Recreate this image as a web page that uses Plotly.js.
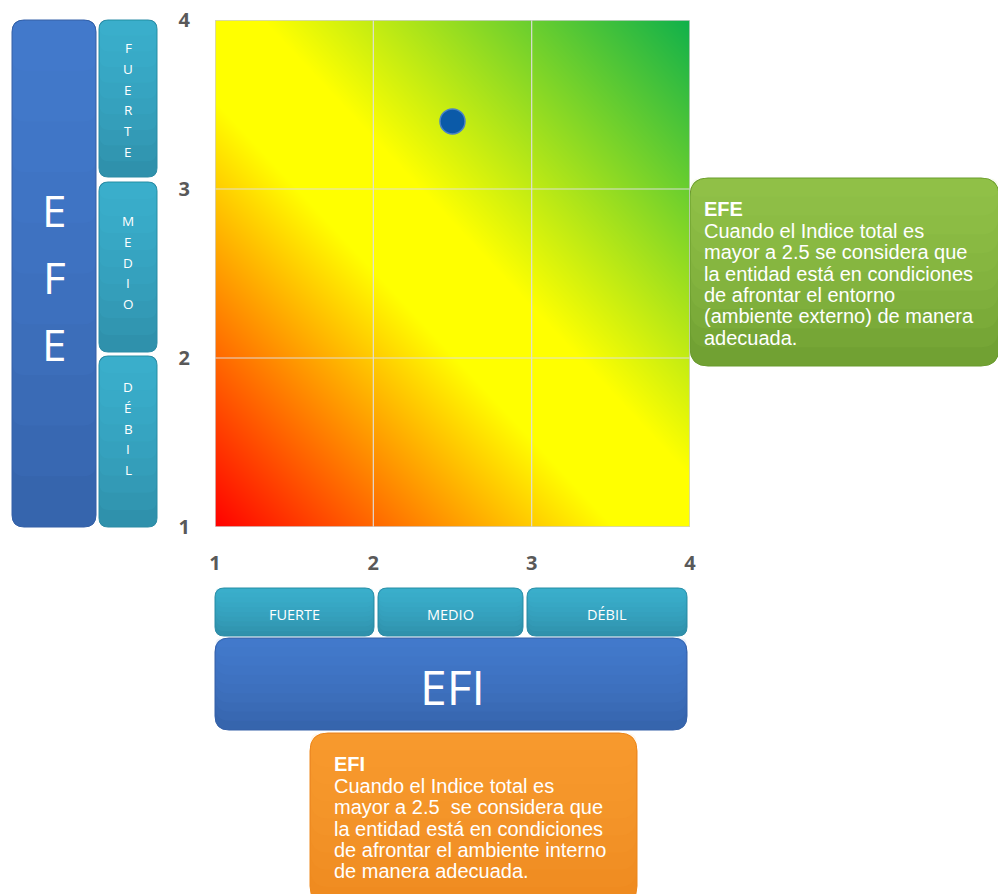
<!DOCTYPE html>
<html>
<head>
<meta charset="utf-8">
<script src="https://cdn.plot.ly/plotly-3.0.1.min.js"></script>
<style>
  body { margin: 0; background: #fff; }
  #chart { width: 998px; height: 894px; }
</style>
</head>
<body>
<div id="chart"></div>
<script>
// valores de la matriz EFI - EFE
const tickValues = [1, 2, 3, 4];
const tickLabels = ['1', '2', '3', '4'];
const efiScore = [2.5];   // eje X
const efeScore = [3.4];   // eje Y

// esquinas del degradado de fondo (z = EFI + EFE)
const bgX = [1, 4];
const bgY = [1, 4];
const bgZ = [[2, 5], [5, 8]];

const levelLabels = ['FUERTE', 'MEDIO', 'DÉBIL'];
const efeNoteLines = ['Cuando el Indice total es', 'mayor a 2.5 se considera que', 'la entidad está en condiciones',
    'de afrontar el entorno', '(ambiente externo) de manera', 'adecuada.'];
const efiNoteLines = ['Cuando el Indice total es', 'mayor a 2.5  se considera que', 'la entidad está en condiciones',
    'de afrontar el ambiente interno', 'de manera adecuada.'];

// área del gráfico en pixeles
const W = 998, H = 894;
const L = 215, R = 690, T = 20, B = 527;
const px = x => (x - L) / (R - L);
const py = y => (B - y) / (B - T);

// caja redondeada en coordenadas paper
function roundBox(x0, y0, x1, y1, r, fill, line) {
    const rx = r / (R - L), ry = r / (B - T);
    const a = px(x0), b = px(x1), c = py(y0), d = py(y1);
    const path = `M ${a + rx},${c} L ${b - rx},${c} Q ${b},${c} ${b},${c - ry} L ${b},${d + ry} Q ${b},${d} ${b - rx},${d} ` +
        `L ${a + rx},${d} Q ${a},${d} ${a},${d + ry} L ${a},${c - ry} Q ${a},${c} ${a + rx},${c} Z`;
    return { type: 'path', xref: 'paper', yref: 'paper', path: path, fillcolor: fill,
        line: { color: line || 'rgba(0,0,0,0)', width: line ? 1 : 0 }, layer: 'above' };
}

// degradado vertical aproximado: capas translúcidas del color claro, apiladas desde arriba
function gradBox(x0, y0, x1, y1, r, base, top) {
    const out = [roundBox(x0, y0, x1, y1, r, base, base)];
    const steps = 10;
    for (let k = 1; k <= steps; k++) {
        const yb = y0 + (y1 - y0) * k / steps;
        out.push(roundBox(x0 + 0.5, y0 + 0.5, x1 - 0.5, Math.min(yb, y1 - 0.5), Math.min(r, (yb - y0) / 2), top));
    }
    return out;
}

function label(text, x, y, size, opts) {
    return Object.assign({
        text: text, xref: 'paper', yref: 'paper', x: px(x), y: py(y), showarrow: false,
        xanchor: 'center', yanchor: 'middle',
        font: { family: 'Open Sans, sans-serif', size: size, color: '#ffffff' }
    }, opts || {});
}

const blue = '#3461a8', blueTop = 'rgba(76,142,222,0.10)';
const teal = '#2d8ca6', tealTop = 'rgba(66,198,230,0.10)';

let shapes = [];
let annotations = [];

// EFE grande a la izquierda
shapes = shapes.concat(gradBox(12, 20, 96, 527, 12, blue, blueTop));
['E', 'F', 'E'].forEach((ch, i) => annotations.push(label(ch, 54, 210 + i * 67, 44)));

// niveles verticales EFE
const vBoxes = [[20, 177], [182, 352], [356, 527]];
const vStart = [48, 221, 387];
levelLabels.forEach((lab, k) => {
    shapes = shapes.concat(gradBox(99, vBoxes[k][0], 157, vBoxes[k][1], 9, teal, tealTop));
    lab.split('').forEach((ch, i) => annotations.push(label(ch, 128, vStart[k] + i * 20.8, 13.5)));
});

// niveles horizontales EFI
const hBoxes = [[215, 374], [378, 523], [527, 687]];
levelLabels.forEach((lab, k) => {
    shapes = shapes.concat(gradBox(hBoxes[k][0], 588, hBoxes[k][1], 636, 9, teal, tealTop));
    annotations.push(label(lab, (hBoxes[k][0] + hBoxes[k][1]) / 2, 614, 14.5));
});

// EFI grande abajo
shapes = shapes.concat(gradBox(215, 638, 687, 730, 14, blue, blueTop));
annotations.push(label('EFI', 452, 686, 48));

// notas
shapes = shapes.concat(gradBox(690, 178, 999, 366, 18, '#6b9b2f', 'rgba(170,216,92,0.10)'));
shapes = shapes.concat(gradBox(310, 733, 637, 904, 18, '#ee881d', 'rgba(253,166,62,0.10)'));

function note(title, lines, x, y0) {
    const f = { family: 'Liberation Sans, Arial, sans-serif', size: 20, color: '#ffffff' };
    annotations.push(label('<b>' + title + '</b>', x, y0, 20, { xanchor: 'left', font: f }));
    lines.forEach((ln, i) => annotations.push(label(ln, x, y0 + 22 + i * 21.3, 20, { xanchor: 'left', font: f })));
}
note('EFE', efeNoteLines, 702, 209);
note('EFI', efiNoteLines, 332, 764);

// cuadrícula y borde encima del degradado
tickValues.slice(1, -1).forEach(v => {
    shapes.push({ type: 'line', xref: 'x', yref: 'y', x0: v, x1: v, y0: 1, y1: 4, line: { color: 'rgba(222,222,222,0.95)', width: 1.2 }, layer: 'above' });
    shapes.push({ type: 'line', xref: 'x', yref: 'y', x0: 1, x1: 4, y0: v, y1: v, line: { color: 'rgba(222,222,222,0.95)', width: 1.2 }, layer: 'above' });
});
shapes.push({ type: 'rect', xref: 'x', yref: 'y', x0: 1, x1: 4, y0: 1, y1: 4, line: { color: '#d0d0d0', width: 1.5 }, layer: 'above' });

const background = {
    type: 'heatmap', x: bgX, y: bgY, z: bgZ, zsmooth: 'best', showscale: false, hoverinfo: 'skip',
    zmin: 2, zmax: 8,
    colorscale: [[0, '#ff0000'], [0.2, '#ff7a00'], [0.42, '#ffff00'], [0.55, '#ffff00'], [1, '#0fb04b']]
};

const point = {
    type: 'scatter', mode: 'markers', x: efiScore, y: efeScore, hoverinfo: 'x+y',
    marker: { size: 25, color: '#0b5aa8', line: { color: '#4a82c6', width: 1.5 } }
};

const tickFont = { family: 'Open Sans, sans-serif', size: 20, color: '#595959' };
const boldTicks = tickLabels.map(t => '<b>' + t + '</b>');

const layout = {
    width: W, height: H,
    margin: { l: L, r: W - R, t: T, b: H - B, pad: 0 },
    paper_bgcolor: '#ffffff', plot_bgcolor: '#ffffff',
    showlegend: false,
    xaxis: { range: [1, 4], tickvals: tickValues, ticktext: boldTicks, showgrid: false, zeroline: false, fixedrange: true,
        ticks: 'outside', ticklen: 18, tickcolor: 'rgba(0,0,0,0)', tickfont: tickFont },
    yaxis: { range: [1, 4], tickvals: tickValues, ticktext: boldTicks, showgrid: false, zeroline: false, fixedrange: true,
        ticks: 'outside', ticklen: 20, tickcolor: 'rgba(0,0,0,0)', tickfont: tickFont },
    shapes: shapes,
    annotations: annotations
};

Plotly.newPlot('chart', [background, point], layout, { displayModeBar: false, staticPlot: true });
</script>
</body>
</html>
